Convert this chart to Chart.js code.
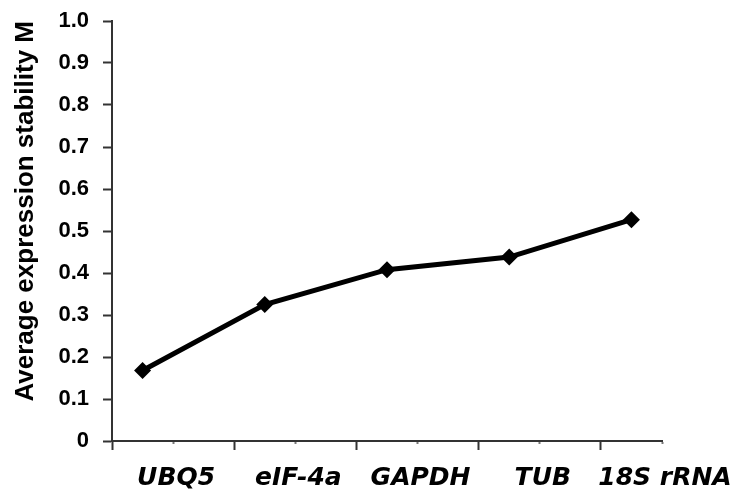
<!DOCTYPE html>
<html>
<head>
<meta charset="utf-8">
<script src="https://cdn.jsdelivr.net/npm/chart.js@4/dist/chart.umd.min.js"></script>
<style>
  html, body { margin: 0; padding: 0; background: #fff; }
  #wrap { width: 740px; height: 497px; position: relative; }
</style>
</head>
<body>
<div id="wrap"><canvas id="c"></canvas></div>
<script>
const categories = ['UBQ5', 'eIF-4a', 'GAPDH', 'TUB', '18S rRNA'];
const stabilityM = [0.168, 0.325, 0.408, 0.438, 0.527];
const yTickValues = [0, 0.1, 0.2, 0.3, 0.4, 0.5, 0.6, 0.7, 0.8, 0.9, 1.0];
const yTitle = 'Average expression stability M';

const points = categories.map((c, i) => ({ x: i, y: stabilityM[i] }));
// x ticks: major marks between categories, labels centred on the minor marks
const xTickValues = [];
for (let i = 0; i <= categories.length - 1; i++) { xTickValues.push(i - 0.25, i + 0.25); }

new Chart(document.getElementById('c'), {
  type: 'line',
  data: {
    datasets: [{
      data: points,
      borderColor: '#000',
      borderWidth: 5,
      tension: 0,
      pointStyle: 'rectRot',
      pointRadius: 8.5,
      pointBackgroundColor: '#000',
      pointBorderColor: '#000',
      pointBorderWidth: 0,
      clip: false
    }]
  },
  options: {
    responsive: true,
    maintainAspectRatio: false,
    animation: false,
    layout: { padding: { top: 21, right: 78, bottom: 0, left: 0 } },
    plugins: { legend: { display: false }, tooltip: { enabled: false } },
    scales: {
      x: {
        type: 'linear',
        min: -0.25,
        max: 4.25,
        afterBuildTicks: s => { s.ticks = xTickValues.map(v => ({ value: v })); },
        afterFit: s => { s.height = 56; s.paddingLeft = 0; s.paddingRight = 0; s.paddingTop = 0; s.paddingBottom = 0; },
        border: { color: '#333', width: 2 },
        grid: {
          drawOnChartArea: false,
          tickLength: 9,
          tickWidth: 2,
          tickColor: ctx => (ctx.index % 2 === 0 ? '#333' : '#777'),
          tickBorderDash: ctx => (ctx.index % 2 === 0 ? [] : [2, 40])
        },
        ticks: {
          autoSkip: false,
          maxRotation: 0,
          minRotation: 0,
          padding: 13,
          labelOffset: 3,
          color: '#000',
          font: { family: 'DejaVu Sans', size: 25, weight: 'bold', style: 'italic' },
          callback: (v, i) => (i % 2 === 1 ? categories[(i - 1) / 2] : '')
        }
      },
      y: {
        min: 0,
        max: 1,
        afterBuildTicks: s => { s.ticks = yTickValues.map(v => ({ value: v })); },
        afterFit: s => { s.width = 112; s.paddingLeft = 0; s.paddingRight = 0; s.paddingTop = 0; s.paddingBottom = 0; },
        border: { color: '#333', width: 2 },
        grid: { drawOnChartArea: false, tickLength: 9, tickWidth: 2, tickColor: '#333' },
        ticks: {
          padding: 14,
          color: '#000',
          font: { family: 'Liberation Sans', size: 22, weight: 'bold' },
          callback: v => (v === 0 ? '0' : v.toFixed(1))
        },
        title: {
          display: true,
          text: yTitle,
          align: 'end',
          color: '#000',
          padding: { top: 10, bottom: 0 },
          font: { family: 'Liberation Sans', size: 26, weight: 'bold' }
        }
      }
    }
  }
});
</script>
</body>
</html>
